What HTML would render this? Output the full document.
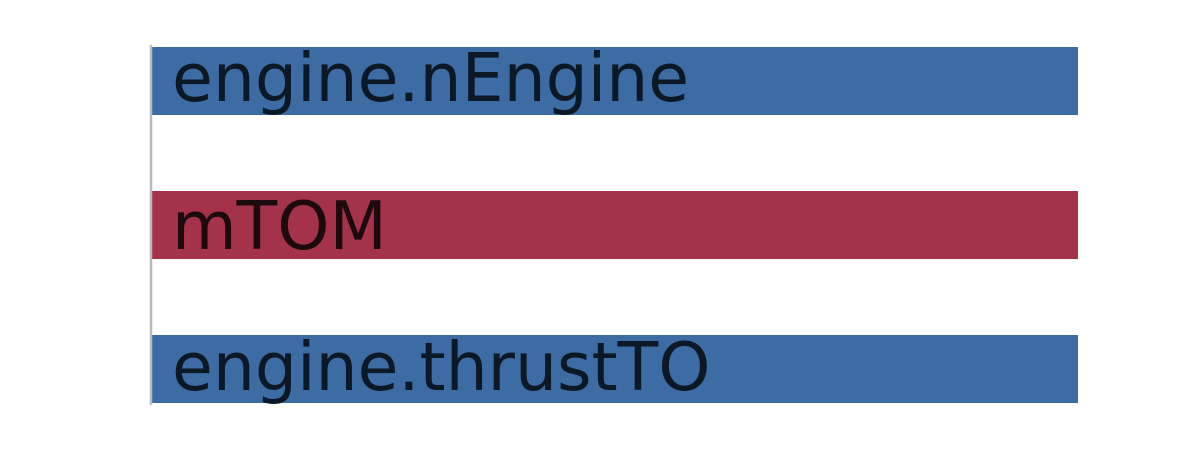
<!DOCTYPE html>
<html><head><style>body{margin:0;background:#fff}svg{display:block}</style></head>
<body>
<svg width="1200" height="450" xmlns="http://www.w3.org/2000/svg">
<rect x="152" y="47" width="926" height="68" fill="#3d6ca5"/>
<rect x="152" y="191" width="926" height="68" fill="#a3324a"/>
<rect x="152" y="335" width="926" height="68" fill="#3d6ca5"/>
<line x1="151" y1="45" x2="151" y2="405" stroke="#bbbbbb" stroke-width="2.5"/>
<g font-family="DejaVu Sans, sans-serif" font-size="66.4">
<text x="172" y="101" fill="#0d1826">engine.nEngine</text>
<text x="172" y="249" fill="#1c0a0e">mTOM</text>
<text x="172" y="390" fill="#0d1826">engine.thrustTO</text>
</g>
</svg>
</body></html>
